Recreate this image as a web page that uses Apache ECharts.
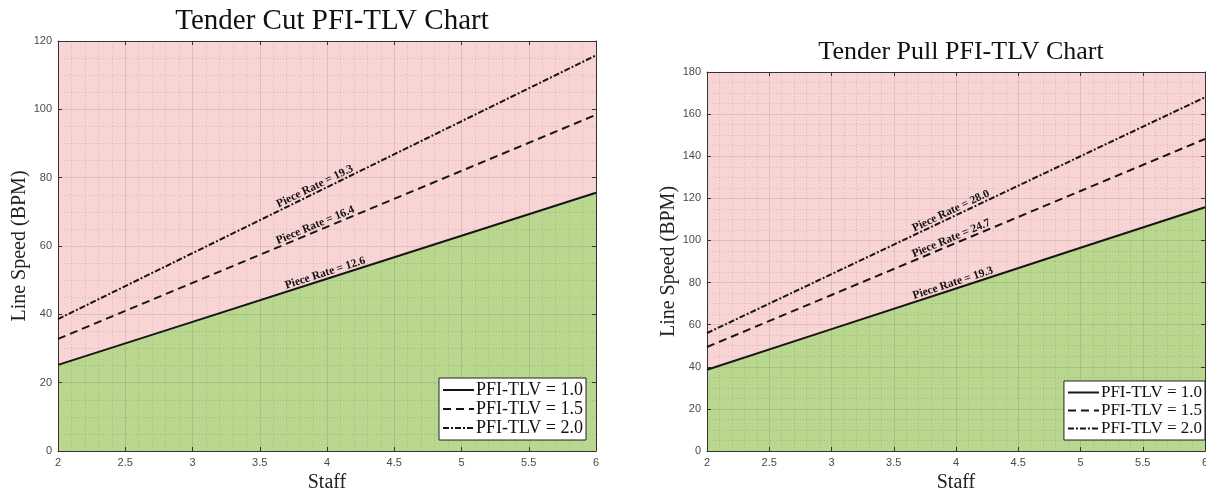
<!DOCTYPE html>
<html>
<head>
<meta charset="utf-8">
<script src="https://cdn.jsdelivr.net/npm/echarts@6/dist/echarts.min.js"></script>
<style>
  html, body { margin: 0; padding: 0; background: #fff; }
  #chart { width: 1206px; height: 491px; }
</style>
</head>
<body>
<div id="chart"></div>
<script>
// Staff counts along the x axis and tick values
const staff = [2, 3, 4, 5, 6];
const staffTicks = [2, 2.5, 3, 3.5, 4, 4.5, 5, 5.5, 6];
const cutSpeedTicks = [0, 20, 40, 60, 80, 100, 120];
const pullSpeedTicks = [0, 20, 40, 60, 80, 100, 120, 140, 160, 180];

// Legend / series names
const pfiNames = ['PFI-TLV = 1.0', 'PFI-TLV = 1.5', 'PFI-TLV = 2.0'];

// Tender Cut: piece rates and line speeds (BPM)
const cutRates = [12.6, 16.4, 19.3];
const cutPfi10 = [25.2, 37.8, 50.4, 63.0, 75.6];
const cutPfi15 = [32.8, 49.2, 65.6, 82.0, 98.4];
const cutPfi20 = [38.6, 57.9, 77.2, 96.5, 115.8];

// Tender Pull: piece rates and line speeds (BPM)
const pullRates = [19.3, 24.7, 28.0];
const pullPfi10 = [38.6, 57.9, 77.2, 96.5, 115.8];
const pullPfi15 = [49.4, 74.1, 98.8, 123.5, 148.2];
const pullPfi20 = [56.0, 84.0, 112.0, 140.0, 168.0];

const SERIF = 'Liberation Serif, Times New Roman, serif';
const SANS = 'Liberation Sans, Arial, sans-serif';
const PINK = '#F9D4D4';
const GREEN = '#B9D78F';
const INK = '#161616';
const dashStyles = ['solid', [8, 5], [6, 2, 2, 2]];

const pairs = (xs, ys) => xs.map((x, i) => [x, ys[i]]);

const majorGrid = { show: true, lineStyle: { color: 'rgba(0,0,0,0.10)', width: 1 } };
const minorGrid = { show: true, lineStyle: { color: 'rgba(0,0,0,0.12)', width: 1, type: [1, 2] } };

function bottomAxis(ticks, grid, minorN) {
  return {
    type: 'value', gridIndex: grid, position: 'bottom', z: 3,
    min: ticks[0], max: ticks[ticks.length - 1], interval: ticks[1] - ticks[0],
    axisLine: { show: true, onZero: false, lineStyle: { color: '#333', width: 1 } },
    axisTick: { show: true, inside: true, length: 4, lineStyle: { color: '#333' } },
    axisLabel: { color: '#4a4a4a', fontFamily: SANS, fontSize: 11, margin: 6, showMaxLabel: true },
    splitLine: majorGrid,
    minorTick: { show: false, splitNumber: minorN },
    minorSplitLine: minorGrid,
    name: 'Staff', nameLocation: 'middle', nameGap: 18,
    nameTextStyle: { fontFamily: SERIF, fontSize: 20, color: '#222' }
  };
}
function leftAxis(ticks, grid, minorN, gap) {
  return {
    type: 'value', gridIndex: grid, position: 'left', z: 3,
    min: ticks[0], max: ticks[ticks.length - 1], interval: ticks[1] - ticks[0],
    axisLine: { show: true, onZero: false, lineStyle: { color: '#333', width: 1 } },
    axisTick: { show: true, inside: true, length: 4, lineStyle: { color: '#333' } },
    axisLabel: { color: '#4a4a4a', fontFamily: SANS, fontSize: 11, margin: 6 },
    splitLine: majorGrid,
    minorTick: { show: false, splitNumber: minorN },
    minorSplitLine: minorGrid,
    name: 'Line Speed (BPM)', nameLocation: 'middle', nameGap: gap,
    nameTextStyle: { fontFamily: SERIF, fontSize: 20, color: '#222' }
  };
}
// Frame edges (top / right) with inward ticks, no labels
function frameAxis(ticks, grid, pos) {
  return {
    type: 'value', gridIndex: grid, position: pos, z: 3,
    min: ticks[0], max: ticks[ticks.length - 1], interval: ticks[1] - ticks[0],
    axisLine: { show: true, onZero: false, lineStyle: { color: '#333', width: 1 } },
    axisTick: { show: true, inside: true, length: 4, lineStyle: { color: '#333' } },
    axisLabel: { show: false }, splitLine: { show: false }
  };
}

function regionSeries(xIdx, yIdx, xs, limit, baseline) {
  return [
    { type: 'line', xAxisIndex: xIdx, yAxisIndex: yIdx, z: 1, silent: true, symbol: 'none',
      data: [[xs[0], limit], [xs[xs.length - 1], limit]],
      lineStyle: { width: 0 }, areaStyle: { color: PINK, opacity: 1, origin: 'start' } },
    { type: 'line', xAxisIndex: xIdx, yAxisIndex: yIdx, z: 2, silent: true, symbol: 'none',
      data: pairs(xs, baseline),
      lineStyle: { width: 0 }, areaStyle: { color: GREEN, opacity: 1, origin: 'start' } }
  ];
}
function pfiSeries(xIdx, yIdx, sets) {
  return sets.map((vals, i) => ({
    type: 'line', name: pfiNames[i], xAxisIndex: xIdx, yAxisIndex: yIdx, z: 4,
    symbol: 'none', data: pairs(staff, vals),
    lineStyle: { color: INK, width: 2, type: dashStyles[i], cap: 'butt' },
    itemStyle: { color: INK }
  }));
}
function legendBox(right, bottom, size) {
  return {
    data: pfiNames, orient: 'vertical', right: right, bottom: bottom,
    backgroundColor: '#fff', borderColor: '#222', borderWidth: 1, borderRadius: 0,
    padding: [3, 3, 3, 3], itemGap: 1, itemWidth: 31, itemHeight: 12, selectedMode: false,
    itemStyle: { opacity: 0 },
    lineStyle: { width: 2 },
    textStyle: { fontFamily: SERIF, fontSize: size, lineHeight: size, color: '#111', padding: [0, 0, 0, -3] },
    z: 6
  };
}

const chart = echarts.init(document.getElementById('chart'), null, { renderer: 'canvas' });

chart.setOption({
  animation: false,
  backgroundColor: '#fff',
  title: [
    { text: 'Tender Cut PFI-TLV Chart', left: 327, top: 2, textAlign: 'center',
      textStyle: { fontFamily: SERIF, fontSize: 29, fontWeight: 'normal', color: '#111' } },
    { text: 'Tender Pull PFI-TLV Chart', left: 956, top: 34, textAlign: 'center',
      textStyle: { fontFamily: SERIF, fontSize: 26, fontWeight: 'normal', color: '#111' } }
  ],
  grid: [
    { left: 58, top: 41, right: 610, bottom: 40, outerBoundsMode: 'none', containLabel: false },
    { left: 707, top: 72, right: 1, bottom: 40, outerBoundsMode: 'none', containLabel: false }
  ],
  xAxis: [
    bottomAxis(staffTicks, 0, 5),
    bottomAxis(staffTicks, 1, 5),
    frameAxis(staffTicks, 0, 'top'),
    frameAxis(staffTicks, 1, 'top')
  ],
  yAxis: [
    leftAxis(cutSpeedTicks, 0, 4, 25),
    leftAxis(pullSpeedTicks, 1, 4, 26),
    frameAxis(cutSpeedTicks, 0, 'right'),
    frameAxis(pullSpeedTicks, 1, 'right')
  ],
  legend: [
    legendBox(620, 51, 18),
    legendBox(1, 51, 17)
  ],
  series: [
    ...regionSeries(0, 0, staff, cutSpeedTicks[cutSpeedTicks.length - 1], cutPfi10),
    ...regionSeries(1, 1, staff, pullSpeedTicks[pullSpeedTicks.length - 1], pullPfi10),
    ...pfiSeries(0, 0, [cutPfi10, cutPfi15, cutPfi20]),
    ...pfiSeries(1, 1, [pullPfi10, pullPfi15, pullPfi20])
  ]
});

// Piece-rate annotations, laid along each line
function rateLabels(axisIdx, rates, sets, anchors) {
  return rates.map((rate, i) => {
    const vals = sets[i];
    const p0 = chart.convertToPixel({ xAxisIndex: axisIdx, yAxisIndex: axisIdx }, [staff[0], vals[0]]);
    const p1 = chart.convertToPixel({ xAxisIndex: axisIdx, yAxisIndex: axisIdx }, [staff[staff.length - 1], vals[vals.length - 1]]);
    const ang = Math.atan2(p0[1] - p1[1], p1[0] - p0[0]);
    const t = (anchors[i] - staff[0]) / (staff[staff.length - 1] - staff[0]);
    const px = p0[0] + (p1[0] - p0[0]) * t;
    const py = p0[1] + (p1[1] - p0[1]) * t;
    return {
      type: 'text', x: px, y: py, rotation: ang, z: 5,
      style: {
        text: 'Piece Rate = ' + rate.toFixed(1),
        font: 'bold 11.5px ' + SERIF, fill: '#111',
        align: 'center', verticalAlign: 'bottom'
      }
    };
  });
}

chart.setOption({
  graphic: [
    ...rateLabels(0, cutRates, [cutPfi10, cutPfi15, cutPfi20], [4.0, 3.93, 3.93]),
    ...rateLabels(1, pullRates, [pullPfi10, pullPfi15, pullPfi20], [3.99, 3.98, 3.98])
  ]
});
</script>
</body>
</html>
